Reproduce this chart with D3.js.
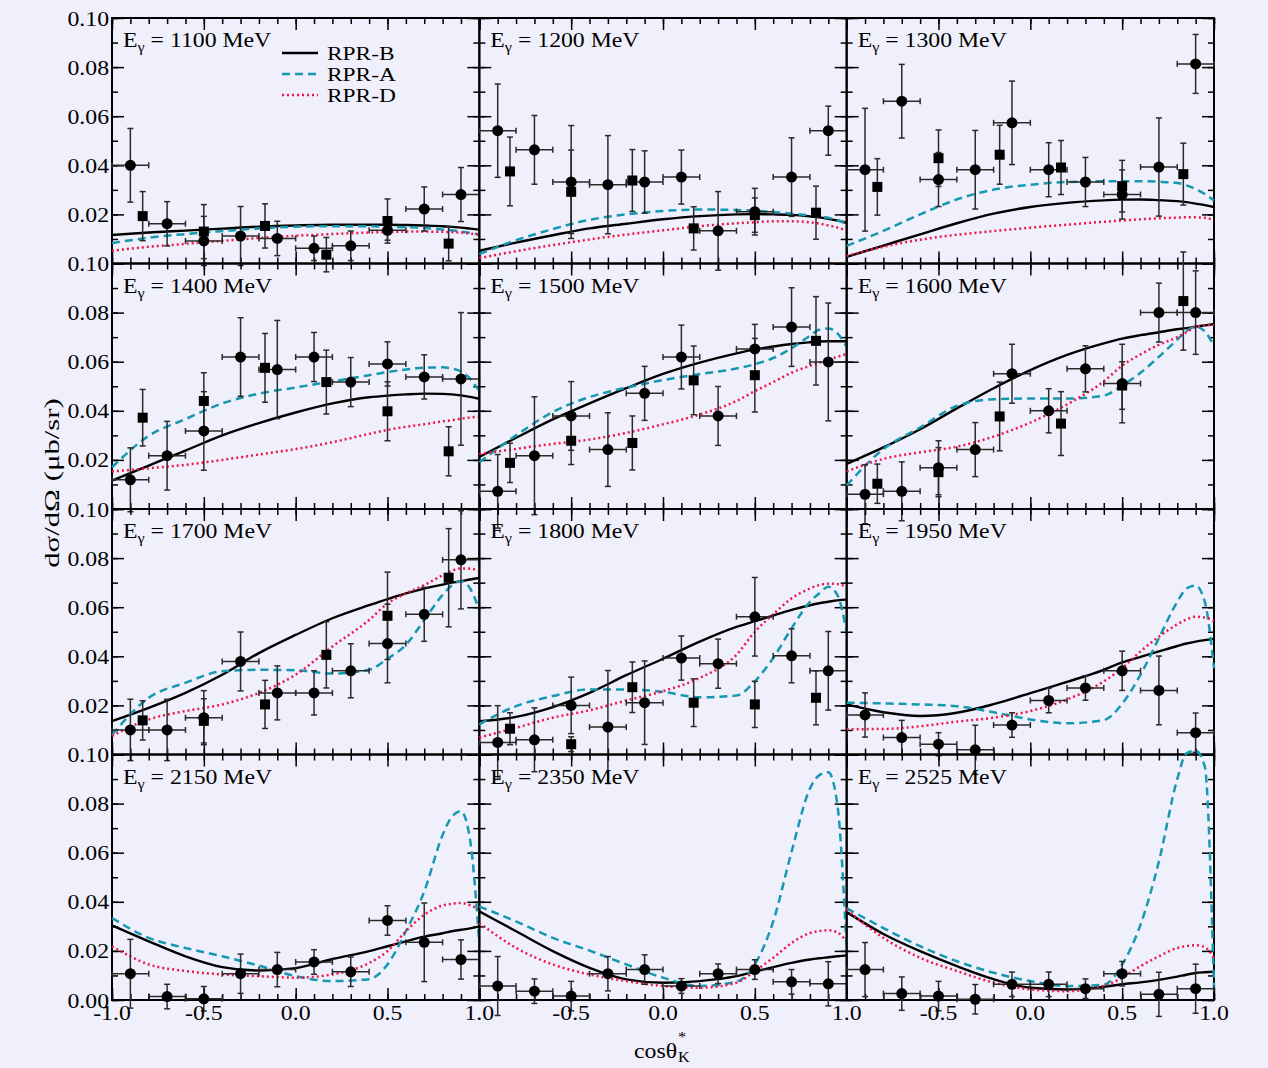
<!DOCTYPE html>
<html>
<head>
  <meta charset="utf-8">
  <title>K photoproduction cross sections</title>
  <script src="https://cdn.jsdelivr.net/npm/d3@7"></script>
  <style>
    body { margin: 0; background: #f0f0fc; }
    text { font-family: "Liberation Serif", "Times New Roman", Times, serif; fill: #000; }
    .tick line { stroke: #000; stroke-width: 1.5; }
  </style>
</head>
<body>
<svg id="chart" width="1268" height="1068"></svg>
<script>
  // photon energies, one panel each
  var energies = [1100, 1200, 1300, 1400, 1500, 1600, 1700, 1800, 1950, 2150, 2350, 2525];

  // cos grid on which the model curves were read
  var cosGrid = [-1, -0.8, -0.6, -0.4, -0.2, 0, 0.2, 0.4, 0.5, 0.6, 0.7, 0.8, 0.85, 0.9, 0.95, 1];

  var rprB = [
    [0.0116, 0.0126, 0.0134, 0.0142, 0.0150, 0.0155, 0.0158, 0.0158, 0.0158, 0.0157, 0.0155, 0.0152, 0.0149, 0.0146, 0.0142, 0.0138],
    [0.0052, 0.0085, 0.0115, 0.0143, 0.0162, 0.0180, 0.0193, 0.0200, 0.0201, 0.0200, 0.0198, 0.0192, 0.0188, 0.0182, 0.0175, 0.0166],
    [0.0027, 0.0073, 0.0119, 0.0164, 0.0203, 0.0230, 0.0247, 0.0257, 0.0260, 0.0261, 0.0258, 0.0254, 0.0250, 0.0244, 0.0238, 0.0230],
    [0.0116, 0.0177, 0.0238, 0.0300, 0.0350, 0.0393, 0.0430, 0.0455, 0.0462, 0.0467, 0.0470, 0.0469, 0.0467, 0.0463, 0.0457, 0.0449],
    [0.0212, 0.0290, 0.0365, 0.0430, 0.0492, 0.0550, 0.0596, 0.0634, 0.0650, 0.0662, 0.0672, 0.0679, 0.0682, 0.0683, 0.0683, 0.0683],
    [0.0184, 0.0251, 0.0325, 0.0410, 0.0492, 0.0566, 0.0628, 0.0675, 0.0694, 0.0708, 0.0720, 0.0732, 0.0737, 0.0743, 0.0748, 0.0753],
    [0.0136, 0.0190, 0.0251, 0.0325, 0.0413, 0.0487, 0.0555, 0.0608, 0.0633, 0.0656, 0.0676, 0.0692, 0.0700, 0.0706, 0.0713, 0.0719],
    [0.0136, 0.0153, 0.0193, 0.0251, 0.0323, 0.0390, 0.0460, 0.0520, 0.0543, 0.0566, 0.0589, 0.0608, 0.0616, 0.0622, 0.0628, 0.0631],
    [0.0204, 0.0172, 0.0157, 0.0170, 0.0205, 0.0250, 0.0296, 0.0345, 0.0375, 0.0398, 0.0420, 0.0442, 0.0452, 0.0460, 0.0466, 0.0471],
    [0.0304, 0.0239, 0.0178, 0.0134, 0.0120, 0.0130, 0.0167, 0.0199, 0.0219, 0.0239, 0.0258, 0.0272, 0.0280, 0.0286, 0.0292, 0.0300],
    [0.0361, 0.0280, 0.0199, 0.0131, 0.0084, 0.0070, 0.0077, 0.0097, 0.0115, 0.0134, 0.0151, 0.0165, 0.0170, 0.0174, 0.0178, 0.0182],
    [0.0358, 0.0269, 0.0199, 0.0138, 0.0085, 0.0050, 0.0043, 0.0054, 0.0064, 0.0072, 0.0082, 0.0095, 0.0103, 0.0110, 0.0113, 0.0115]
  ];

  var rprA = [
    [0.0083, 0.0105, 0.0120, 0.0132, 0.0143, 0.0150, 0.0152, 0.0152, 0.0150, 0.0148, 0.0145, 0.0138, 0.0135, 0.0130, 0.0125, 0.0118],
    [0.0038, 0.0095, 0.0140, 0.0178, 0.0200, 0.0214, 0.0220, 0.0218, 0.0215, 0.0210, 0.0203, 0.0196, 0.0191, 0.0186, 0.0176, 0.0162],
    [0.0072, 0.0133, 0.0200, 0.0261, 0.0301, 0.0321, 0.0332, 0.0335, 0.0335, 0.0335, 0.0333, 0.0328, 0.0318, 0.0303, 0.0283, 0.0257],
    [0.0170, 0.0298, 0.0366, 0.0430, 0.0470, 0.0495, 0.0520, 0.0545, 0.0558, 0.0568, 0.0576, 0.0577, 0.0572, 0.0560, 0.0530, 0.0480],
    [0.0190, 0.0300, 0.0395, 0.0456, 0.0494, 0.0525, 0.0550, 0.0572, 0.0590, 0.0615, 0.0655, 0.0706, 0.0730, 0.0735, 0.0715, 0.0660],
    [0.0096, 0.0244, 0.0332, 0.0420, 0.0447, 0.0450, 0.0450, 0.0462, 0.0503, 0.0555, 0.0620, 0.0690, 0.0725, 0.0743, 0.0723, 0.0665],
    [0.0080, 0.0231, 0.0292, 0.0339, 0.0345, 0.0343, 0.0330, 0.0345, 0.0390, 0.0447, 0.0548, 0.0650, 0.0688, 0.0706, 0.0676, 0.0588],
    [0.0123, 0.0197, 0.0238, 0.0265, 0.0265, 0.0255, 0.0233, 0.0240, 0.0298, 0.0393, 0.0514, 0.0622, 0.0656, 0.0683, 0.0649, 0.0500],
    [0.0211, 0.0208, 0.0204, 0.0197, 0.0172, 0.0143, 0.0127, 0.0140, 0.0207, 0.0325, 0.0474, 0.0622, 0.0676, 0.0688, 0.0622, 0.0352],
    [0.0334, 0.0253, 0.0212, 0.0178, 0.0140, 0.0097, 0.0077, 0.0085, 0.0145, 0.0280, 0.0442, 0.0672, 0.0746, 0.0769, 0.0651, 0.0226],
    [0.0381, 0.0320, 0.0253, 0.0201, 0.0145, 0.0091, 0.0057, 0.0075, 0.0145, 0.0320, 0.0604, 0.0861, 0.0915, 0.0928, 0.0793, 0.0200],
    [0.0374, 0.0293, 0.0219, 0.0158, 0.0111, 0.0077, 0.0057, 0.0062, 0.0145, 0.0307, 0.0564, 0.0900, 0.1005, 0.1015, 0.0950, 0.0050]
  ];

  var rprD = [
    [0.0052, 0.0068, 0.0080, 0.0092, 0.0104, 0.0113, 0.0120, 0.0126, 0.0128, 0.0130, 0.0130, 0.0129, 0.0128, 0.0126, 0.0122, 0.0118],
    [0.0022, 0.0050, 0.0075, 0.0098, 0.0118, 0.0135, 0.0152, 0.0164, 0.0168, 0.0172, 0.0172, 0.0168, 0.0163, 0.0155, 0.0146, 0.0135],
    [0.0031, 0.0068, 0.0097, 0.0117, 0.0132, 0.0146, 0.0158, 0.0170, 0.0175, 0.0180, 0.0184, 0.0187, 0.0188, 0.0188, 0.0186, 0.0178],
    [0.0153, 0.0166, 0.0180, 0.0200, 0.0222, 0.0244, 0.0272, 0.0306, 0.0322, 0.0335, 0.0345, 0.0357, 0.0362, 0.0368, 0.0373, 0.0377],
    [0.0224, 0.0245, 0.0265, 0.0283, 0.0310, 0.0345, 0.0385, 0.0440, 0.0480, 0.0517, 0.0555, 0.0583, 0.0596, 0.0608, 0.0620, 0.0631],
    [0.0153, 0.0204, 0.0231, 0.0254, 0.0295, 0.0352, 0.0426, 0.0520, 0.0584, 0.0630, 0.0669, 0.0700, 0.0720, 0.0742, 0.0748, 0.0750],
    [0.0076, 0.0143, 0.0177, 0.0204, 0.0251, 0.0325, 0.0440, 0.0548, 0.0615, 0.0656, 0.0690, 0.0730, 0.0748, 0.0758, 0.0757, 0.0750],
    [0.0069, 0.0109, 0.0150, 0.0180, 0.0220, 0.0258, 0.0312, 0.0406, 0.0500, 0.0571, 0.0636, 0.0676, 0.0690, 0.0696, 0.0694, 0.0683],
    [0.0103, 0.0104, 0.0115, 0.0134, 0.0150, 0.0177, 0.0224, 0.0298, 0.0352, 0.0420, 0.0480, 0.0530, 0.0550, 0.0561, 0.0558, 0.0544],
    [0.0219, 0.0145, 0.0118, 0.0104, 0.0097, 0.0091, 0.0104, 0.0151, 0.0199, 0.0280, 0.0347, 0.0385, 0.0392, 0.0395, 0.0386, 0.0368],
    [0.0314, 0.0212, 0.0145, 0.0104, 0.0077, 0.0057, 0.0050, 0.0070, 0.0118, 0.0172, 0.0232, 0.0273, 0.0281, 0.0284, 0.0275, 0.0239],
    [0.0368, 0.0253, 0.0172, 0.0118, 0.0071, 0.0043, 0.0036, 0.0057, 0.0091, 0.0138, 0.0178, 0.0212, 0.0220, 0.0223, 0.0215, 0.0172]
  ];

  // data set 1 (circles), bins of width 0.2
  var circleCos = [-0.9, -0.7, -0.5, -0.3, -0.1, 0.1, 0.3, 0.5, 0.7, 0.9];
  var circleVal = [
    [0.040, 0.0162, 0.0092, 0.0112, 0.0102, 0.0062, 0.0072, 0.0135, 0.0222, 0.0281],
    [0.0541, 0.0463, 0.0332, 0.0321, 0.0332, 0.0352, 0.0133, 0.0211, 0.0352, 0.0541],
    [0.0382, 0.0661, 0.0342, 0.0382, 0.0573, 0.0382, 0.0332, 0.0281, 0.0393, 0.0813],
    [0.0119, 0.0217, 0.0318, 0.0619, 0.0568, 0.0619, 0.0517, 0.0591, 0.0538, 0.053],
    [0.0072, 0.0217, 0.0379, 0.0242, 0.0471, 0.0619, 0.0379, 0.0652, 0.0741, 0.0599],
    [0.006, 0.0072, 0.0168, 0.0242, 0.0551, 0.040, 0.0571, 0.0511, 0.080, 0.080],
    [0.010, 0.010, 0.015, 0.0379, 0.0251, 0.0251, 0.0341, 0.0452, 0.0571, 0.0793],
    [0.0049, 0.006, 0.020, 0.0112, 0.0211, 0.0393, 0.037, 0.0561, 0.0402, 0.0341],
    [0.0161, 0.0069, 0.0042, 0.0019, 0.012, 0.022, 0.0271, 0.0341, 0.0261, 0.0089],
    [0.0107, 0.0014, 0.0005, 0.0107, 0.0124, 0.0155, 0.0115, 0.0324, 0.0235, 0.0165],
    [0.0057, 0.0036, 0.0016, 0.0107, 0.0124, 0.0057, 0.0107, 0.0124, 0.0074, 0.0066],
    [0.0124, 0.0026, 0.0016, 0.0003, 0.0064, 0.0064, 0.0046, 0.0107, 0.0023, 0.0046]
  ];
  var circleErr = [
    [0.015, 0.009, 0.010, 0.012, 0.007, 0.005, 0.006, 0.004, 0.009, 0.011],
    [0.019, 0.014, 0.023, 0.020, 0.0127, 0.011, 0.016, 0.0095, 0.016, 0.010],
    [0.025, 0.015, 0.011, 0.016, 0.017, 0.011, 0.010, 0.010, 0.020, 0.012],
    [0.013, 0.014, 0.016, 0.016, 0.020, 0.010, 0.010, 0.009, 0.009, 0.027],
    [0.015, 0.024, 0.014, 0.015, 0.011, 0.013, 0.012, 0.010, 0.016, 0.024],
    [0.012, 0.012, 0.011, 0.011, 0.012, 0.009, 0.0094, 0.016, 0.012, 0.017],
    [0.0125, 0.0125, 0.011, 0.012, 0.011, 0.009, 0.011, 0.016, 0.011, 0.020],
    [0.015, 0.013, 0.0115, 0.023, 0.017, 0.009, 0.010, 0.016, 0.011, 0.016],
    [0.009, 0.007, 0.0047, 0.010, 0.005, 0.005, 0.005, 0.008, 0.014, 0.008],
    [0.014, 0.005, 0.005, 0.008, 0.007, 0.005, 0.006, 0.006, 0.016, 0.008],
    [0.012, 0.005, 0.006, 0.007, 0.006, 0.003, 0.004, 0.004, 0.005, 0.009],
    [0.011, 0.0068, 0.006, 0.006, 0.005, 0.005, 0.004, 0.005, 0.009, 0.010]
  ];

  // data set 2 (squares), only up to 1800 MeV
  var squareCos = [-0.833, -0.5, -0.167, 0.167, 0.5, 0.833];
  var squareVal = [
    [0.0193, 0.013, 0.0153, 0.0036, 0.0173, 0.0081],
    [0.0375, 0.0292, 0.0338, 0.0143, 0.0197, 0.0207],
    [0.0312, 0.0429, 0.0443, 0.0391, 0.0315, 0.0364],
    [0.0372, 0.044, 0.0575, 0.0517, 0.0398, 0.0235],
    [0.0188, 0.0278, 0.0269, 0.0524, 0.0545, 0.0685],
    [0.0103, 0.015, 0.0377, 0.0348, 0.0503, 0.0847],
    [0.0139, 0.0137, 0.0204, 0.0406, 0.0565, 0.072],
    [0.0105, 0.0042, 0.0274, 0.0211, 0.0204, 0.0231]
  ];
  var squareErr = [
    [0.010, 0.011, 0.009, 0.007, 0.009, 0.007],
    [0.014, 0.017, 0.0126, 0.0088, 0.007, 0.0108],
    [0.0115, 0.0115, 0.012, 0.011, 0.0105, 0.0126],
    [0.0115, 0.0115, 0.014, 0.013, 0.012, 0.010],
    [0.008, 0.0097, 0.011, 0.014, 0.015, 0.018],
    [0.008, 0.010, 0.014, 0.013, 0.0097, 0.020],
    [0.008, 0.009, 0.0098, 0.0135, 0.0178, 0.020],
    [0.0065, 0.003, 0.0103, 0.0097, 0.0094, 0.011]
  ];

  var models = [
    { name: "RPR-B", vals: rprB, color: "#000000", dash: null, width: 2.4 },
    { name: "RPR-A", vals: rprA, color: "#1598b0", dash: "8,5", width: 2.5 },
    { name: "RPR-D", vals: rprD, color: "#f0144a", dash: "2,3", width: 2.5 }
  ];

  var svg = d3.select("#chart"),
    left0 = 112, top0 = 18,
    colW = (1214 - 112) / 3,
    rowH = (1000 - 18) / 4,
    fs = 22,
    sx = 1.08; // the fonts in the picture are a bit wide

  // text with the horizontal stretch applied
  function stext(parent, x, y, str, size, anchor, stretch) {
    return parent.append("text")
      .attr("transform", "translate(" + x + "," + y + ") scale(" + (stretch || sx) + ",1)")
      .attr("font-size", size)
      .attr("text-anchor", anchor || "start")
      .text(str);
  }

  var minorX = d3.range(-10, 11).map(i => i / 10),
    majorX = [-1, -0.5, 0, 0.5, 1],
    minorY = d3.range(0, 11).map(i => i / 100),
    majorY = [0, 0.02, 0.04, 0.06, 0.08, 0.1];

  // plain hyphen for the minus sign, as in the original
  var fmt = v => d3.format(".1f")(v).replace("\u2212", "-"),
    fmtY = d3.format(".2f");

  energies.forEach(function (E, p) {
    var col = p % 3, row = Math.floor(p / 3);
    var L = left0 + col * colW, T = top0 + row * rowH;
    var x = d3.scaleLinear().domain([-1, 1]).range([L, L + colW]);
    var y = d3.scaleLinear().domain([0, 0.1]).range([T + rowH, T]);
    var g = svg.append("g").attr("class", "panel");

    // ticks on all four sides, pointing in
    [[minorX, 6], [majorX, 12]].forEach(function (t) {
      g.append("g").attr("transform", "translate(0," + (T + rowH) + ")")
        .call(d3.axisBottom(x).tickValues(t[0]).tickSize(-t[1]).tickFormat(""));
      g.append("g").attr("transform", "translate(0," + T + ")")
        .call(d3.axisTop(x).tickValues(t[0]).tickSize(-t[1]).tickFormat(""));
    });
    [[minorY, 6], [majorY, 12]].forEach(function (t) {
      g.append("g").attr("transform", "translate(" + L + ",0)")
        .call(d3.axisLeft(y).tickValues(t[0]).tickSize(-t[1]).tickFormat(""));
      g.append("g").attr("transform", "translate(" + (L + colW) + ",0)")
        .call(d3.axisRight(y).tickValues(t[0]).tickSize(-t[1]).tickFormat(""));
    });
    g.selectAll(".domain").remove();

    g.append("rect")
      .attr("x", L).attr("y", T).attr("width", colW).attr("height", rowH)
      .attr("fill", "none").attr("stroke", "#000").attr("stroke-width", 2);

    // tick labels
    if (col === 0) {
      var yl = row === 3 ? majorY : majorY.slice(1);
      yl.forEach(v => stext(svg, L - 3, y(v) + 7.5, fmtY(v), fs, "end"));
    }
    if (row === 3) {
      var xl = col === 0 ? majorX : majorX.slice(1);
      xl.forEach(v => stext(svg, x(v), 1020, fmt(v), fs, "middle"));
    }

    // model curves
    var line = d3.line()
      .x(d => x(d[0])).y(d => y(d[1]))
      .curve(d3.curveMonotoneX);
    models.forEach(function (m) {
      g.append("path")
        .attr("d", line(cosGrid.map((c, i) => [c, m.vals[p][i]])))
        .attr("fill", "none")
        .attr("stroke", m.color)
        .attr("stroke-width", m.width)
        .attr("stroke-dasharray", m.dash);
    });

    // error bars
    var eb = g.append("g").attr("stroke", "#2a2a2a").attr("stroke-width", 1.5);
    function vbar(cx, v, e) {
      eb.append("line").attr("x1", x(cx)).attr("x2", x(cx)).attr("y1", y(v - e)).attr("y2", y(v + e));
      [v - e, v + e].forEach(w => eb.append("line")
        .attr("x1", x(cx) - 3).attr("x2", x(cx) + 3).attr("y1", y(w)).attr("y2", y(w)));
    }
    circleCos.forEach(function (c, i) {
      var v = circleVal[p][i];
      vbar(c, v, circleErr[p][i]);
      eb.append("line").attr("x1", x(c - 0.1)).attr("x2", x(c + 0.1)).attr("y1", y(v)).attr("y2", y(v));
      [c - 0.1, c + 0.1].forEach(w => eb.append("line")
        .attr("x1", x(w)).attr("x2", x(w)).attr("y1", y(v) - 3).attr("y2", y(v) + 3));
    });
    if (p < squareVal.length) {
      squareCos.forEach((c, i) => vbar(c, squareVal[p][i], squareErr[p][i]));
      g.append("g").selectAll("rect")
        .data(squareCos)
        .enter()
        .append("rect")
        .attr("x", d => x(d) - 5)
        .attr("y", (d, i) => y(squareVal[p][i]) - 5)
        .attr("width", 10).attr("height", 10)
        .attr("fill", "#000");
    }
    g.append("g").selectAll("circle")
      .data(circleCos)
      .enter()
      .append("circle")
      .attr("cx", d => x(d))
      .attr("cy", (d, i) => y(circleVal[p][i]))
      .attr("r", 5.5)
      .attr("fill", "#000");

    // panel title E_gamma = ... MeV
    var t = svg.append("text")
      .attr("transform", "translate(" + (L + 11) + "," + (T + 29) + ") scale(" + sx + ",1)")
      .attr("font-size", fs);
    t.append("tspan").text("E");
    t.append("tspan").attr("font-size", 15).attr("dy", 5).text("γ");
    t.append("tspan").attr("dy", -5).text(" = " + E + " MeV");

    // legend lives in the first panel
    if (p === 0) {
      models.forEach(function (m, k) {
        var ly = T + 35 + k * 21;
        svg.append("line")
          .attr("x1", L + 170).attr("x2", L + 206).attr("y1", ly).attr("y2", ly)
          .attr("stroke", m.color).attr("stroke-width", m.width)
          .attr("stroke-dasharray", m.dash);
        stext(svg, L + 215, ly + 6.5, m.name, 19.5, "start", 1.2);
      });
    }
  });

  // axis titles
  svg.append("text")
    .attr("transform", "translate(59,483) rotate(-90) scale(1.4,1)")
    .attr("font-size", fs)
    .attr("text-anchor", "middle")
    .text("dσ/dΩ (μb/sr)");

  stext(svg, 677, 1058, "cosθ", fs, "end");
  stext(svg, 678, 1062, "K", 15);
  stext(svg, 678, 1042, "*", 15);
</script>
</body>
</html>
